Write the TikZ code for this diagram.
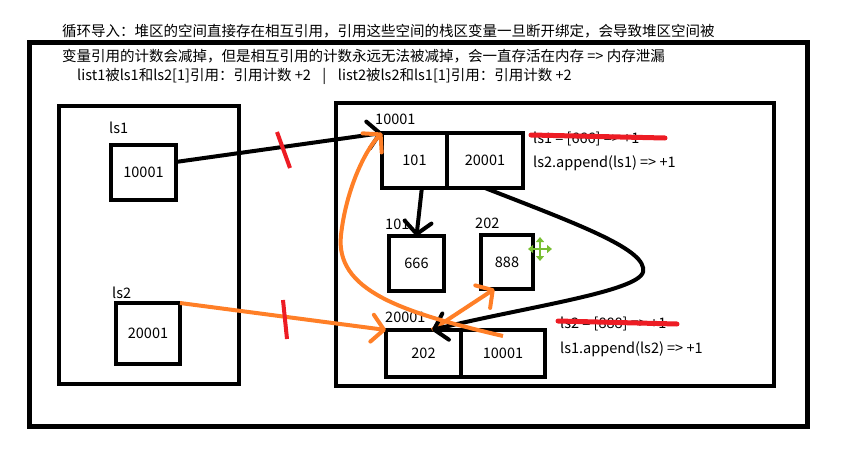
\documentclass[tikz,border=0pt]{standalone}
\usepackage{fontspec}
\setmainfont{Noto Sans CJK SC}
\usetikzlibrary{arrows.meta,positioning}
\definecolor{paintorange}{RGB}{255,127,39}
\definecolor{paintred}{RGB}{237,28,36}
\definecolor{cursorgreen}{RGB}{120,190,50}

\begin{document}
\begin{tikzpicture}[
    x=1pt, y=-1pt,
    font=\fontsize{14.5pt}{17pt}\selectfont,
    frame/.style={line width=4pt},
    cell/.style={draw, line width=4pt, inner sep=0pt, outer sep=0pt},
    tag/.style={inner sep=0pt},
    txt/.style={anchor=base west, inner sep=0pt},
    link/.style={line width=4pt, -{Straight Barb[length=12pt,width=27pt,round]}},
    cut/.style={line width=4pt, paintred},
    strike/.style={line width=5pt, paintred, line cap=round},
    cursor/.style={line width=2.5pt, cursorgreen,
        {Triangle[length=5pt,width=8pt]}-{Triangle[length=5pt,width=8pt]}}
]
    \useasboundingbox (0,0) rectangle (849,450);

    % 说明文字
    \node[txt] (intro1) at (62,36) {循环导入：堆区的空间直接存在相互引用，引用这些空间的栈区变量一旦断开绑定，会导致堆区空间被};
    \node[txt] (intro2) at (62,61) {变量引用的计数会减掉，但是相互引用的计数永远无法被减掉，会一直存活在内存 => 内存泄漏};
    \node[txt] (intro3) at (77,80) {list1被ls1和ls2[1]引用：引用计数 +2\hspace{0.8em}|\hspace{0.8em}list2被ls2和ls1[1]引用：引用计数 +2};

    % 外框、栈区、堆区
    \draw[frame, line width=5pt] (29.5,42.5) rectangle (807.5,426.5);
    \draw[frame] (59,106) rectangle (239,384);
    \draw[frame] (336,103) rectangle (774,386);

    % 栈区变量
    \node[cell, minimum width=65pt, minimum height=55pt] (ls1) at (143.5,172.5) {10001};
    \node[tag, above right=11pt and -2pt of ls1.north west] (ls1tag) {ls1};
    \node[cell, minimum width=64pt, minimum height=61pt] (ls2) at (148,333.5) {20001};
    \node[tag, above right=4pt and -4pt of ls2.north west] (ls2tag) {ls2};

    % 堆区 list1
    \node[cell, minimum width=65pt, minimum height=55pt] (l1a) at (414.5,160.5) {101};
    \node[cell, minimum width=76pt, minimum height=55pt, right=0pt of l1a] (l1b) {20001};
    \node[tag, above right=8pt and -7pt of l1a.north west] (l1tag) {10001};

    % 堆区 666 / 888
    \node[cell, minimum width=55pt, minimum height=55pt] (b666) at (416.5,263.5) {666};
    \node[tag, above right=6pt and -4pt of b666.north west] (b666tag) {101};
    \node[cell, minimum width=52pt, minimum height=54pt] (b888) at (507,262) {888};
    \node[tag, above right=6pt and -6pt of b888.north west] (b888tag) {202};

    % 堆区 list2
    \node[cell, minimum width=75pt, minimum height=47pt] (l2a) at (423.5,353.5) {202};
    \node[cell, minimum width=84pt, minimum height=47pt, right=0pt of l2a] (l2b) {10001};
    \node[tag, above right=7pt and -1pt of l2a.north west] (l2tag) {20001};

    % 注释
    \node[txt] (s1) at (533,143) {ls1 = [666] => +1};
    \node[txt] (a1) at (533,167) {ls2.append(ls1) => +1};
    \node[txt] (s2) at (560,328) {ls2 = [888] => +1};
    \node[txt] (a2) at (560,353) {ls1.append(ls2) => +1};
    \draw[strike] (531,135) -- (665,138);
    \draw[strike] (558,321) -- (677,324);

    % 引用
    \draw[link] (ls1.18) -- (l1a.north west);
    \draw[link, paintorange] (ls2.north east) -- (l2a.north west);
    \draw[link] (l1a.-75) -- (b666.north);
    \draw[link, paintorange] (l2a.70) -- (b888.-115);
    \draw[link] (l1b.south) .. controls (580,225) and (648,250) .. (643,272)
        .. controls (638,292) and (520,308) .. (l2a.70);
    \draw[link, paintorange] ([yshift=-6pt]l2b.north) .. controls (400,312) and (335,290) .. (341,235)
        .. controls (346,190) and (365,150) .. (l1a.north west);

    % 断开绑定
    \draw[cut] (277,132) -- (290,168);
    \draw[cut] (283,300) -- (287,339);

    % 光标
    \draw[cursor] (528,249) -- (552,249);
    \draw[cursor] (540,237) -- (540,261);
\end{tikzpicture}
\end{document}
